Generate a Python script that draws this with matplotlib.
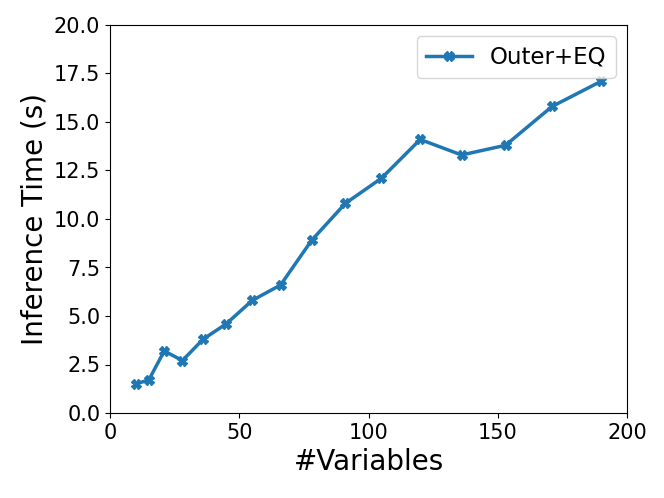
import matplotlib
matplotlib.use('Agg')
import matplotlib.pyplot as plt

n_vars = [10, 15, 21, 28, 36, 45, 55, 66, 78, 91, 105, 120, 136, 153, 171, 190]
times = [1.5, 1.7, 3.2, 2.7, 3.8, 4.6, 5.8, 6.6, 8.9, 10.8, 12.1, 14.1, 13.3, 13.8, 15.8, 17.1]
series_name = "Outer+EQ"

fig = plt.figure(figsize=(6.64, 4.98), dpi=100)
ax = fig.add_axes([110 / 664, 1 - 413 / 498, (627 - 110) / 664, (413 - 25) / 498])

ax.plot(n_vars, times, marker='X', color='#1f77b4', linewidth=2.5, markersize=7, label=series_name)

ax.set_xlim(0, 200)
ax.set_ylim(0, 20)
ax.set_xticks([0, 50, 100, 150, 200])
ax.set_yticks([0, 2.5, 5, 7.5, 10, 12.5, 15, 17.5, 20])
ax.yaxis.set_major_formatter(matplotlib.ticker.FormatStrFormatter('%.1f'))
ax.tick_params(labelsize=15)
ax.set_xlabel("#Variables", fontsize=20)
ax.set_ylabel("Inference Time (s)", fontsize=20)
ax.legend(loc='upper right', fontsize=16.5)

plt.savefig('out.png')
